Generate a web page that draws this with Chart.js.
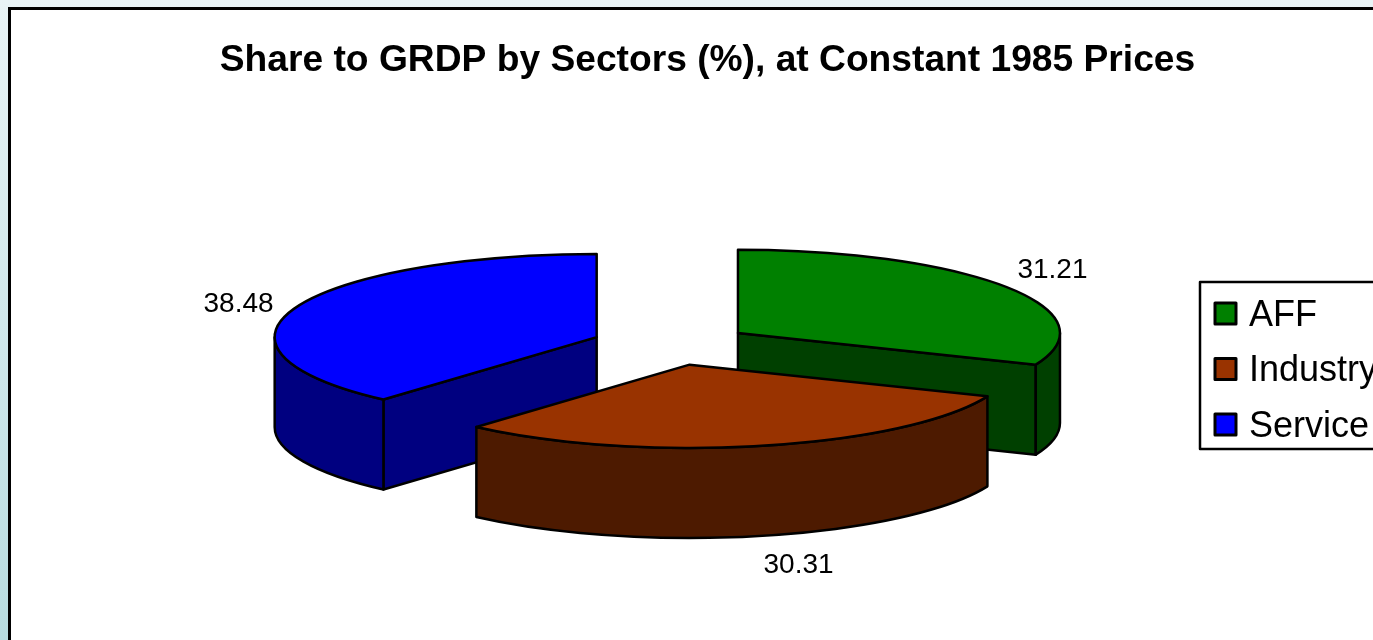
<!DOCTYPE html>
<html lang="en">
<head>
    <meta charset="UTF-8">
    <title>Share to GRDP by Sectors</title>
    <script src="https://cdn.jsdelivr.net/npm/chart.js"></script>
    <style>
        html, body {
            margin: 0;
            padding: 0;
            width: 1373px;
            height: 640px;
            overflow: hidden;
        }
        body {
            background: linear-gradient(#e9f4f6, #b8dce0);
        }
        #frame {
            position: absolute;
            left: 8px;
            top: 7px;
            width: 1393px;
            height: 660px;
            background: #fff;
            border: 3px solid #000;
        }
        canvas {
            display: block;
        }
    </style>
</head>
<body>
    <div id="frame"><canvas id="pie" width="1393" height="660"></canvas></div>

    <script>
        const sectors = ['AFF', 'Industry', 'Service'];
        const shares = [31.21, 30.31, 38.48];
        const topColors = ['#008000', '#993300', '#0000ff'];
        const sideColors = ['#004000', '#4d1a00', '#000080'];
        const chartTitle = 'Share to GRDP by Sectors (%), at Constant 1985 Prices';

        // look of the fake 3D pie, canvas px
        const squash = 0.2586;
        const depth = 90;
        const explode = 80;
        const pieX = 660.5;
        const pieY = 334.5;
        const labelNudge = [[47, -16], [36, 30], [-57, -3]];

        function drawSlice(ctx, arc, i, apexX, apexY) {
            const r = arc.outerRadius;
            const s = arc.startAngle;
            const e = arc.endAngle;
            const px = t => apexX + r * Math.cos(t);
            const py = t => apexY + r * squash * Math.sin(t);

            ctx.lineWidth = 2.5;
            ctx.lineJoin = 'round';
            ctx.strokeStyle = '#000';
            ctx.fillStyle = sideColors[i];

            // cut faces turned to the viewer
            [[s, Math.cos(s) < -0.001], [e, Math.cos(e) > 0.001]].forEach(([t, visible]) => {
                if (!visible) return;
                ctx.beginPath();
                ctx.moveTo(apexX, apexY);
                ctx.lineTo(px(t), py(t));
                ctx.lineTo(px(t), py(t) + depth);
                ctx.lineTo(apexX, apexY + depth);
                ctx.closePath();
                ctx.fill();
                ctx.stroke();
            });

            // rim, only the front half of the ellipse
            const from = Math.max(s, 0);
            const to = Math.min(e, Math.PI);
            if (to > from) {
                ctx.beginPath();
                ctx.ellipse(apexX, apexY, r, r * squash, 0, from, to);
                ctx.lineTo(px(to), py(to) + depth);
                ctx.ellipse(apexX, apexY + depth, r, r * squash, 0, to, from, true);
                ctx.closePath();
                ctx.fill();
                ctx.stroke();
            }

            // top face: the arc element itself, squashed
            ctx.save();
            ctx.translate(apexX, apexY);
            ctx.scale(1, squash);
            ctx.translate(-arc.x, -arc.y);
            arc.draw(ctx);
            ctx.restore();

            ctx.beginPath();
            ctx.moveTo(apexX, apexY);
            ctx.ellipse(apexX, apexY, r, r * squash, 0, s, e);
            ctx.closePath();
            ctx.stroke();
        }

        const pie3d = {
            id: 'pie3d',
            beforeDatasetsDraw(chart) {
                const ctx = chart.ctx;
                const arcs = chart.getDatasetMeta(0).data;
                const items = arcs.map((arc, i) => {
                    const mid = (arc.startAngle + arc.endAngle) / 2;
                    return {
                        arc, i, mid,
                        apexX: pieX + explode * Math.cos(mid),
                        apexY: pieY + explode * squash * Math.sin(mid)
                    };
                });

                ctx.save();
                items.slice().sort((a, b) => a.apexY - b.apexY).forEach(it => {
                    drawSlice(ctx, it.arc, it.i, it.apexX, it.apexY);
                });

                // value labels
                ctx.fillStyle = '#000';
                ctx.font = '28px "Liberation Sans", Arial, sans-serif';
                ctx.textAlign = 'center';
                ctx.textBaseline = 'middle';
                items.forEach(it => {
                    const r = it.arc.outerRadius;
                    const sin = Math.sin(it.mid);
                    const x = it.apexX + r * Math.cos(it.mid) + labelNudge[it.i][0];
                    const y = it.apexY + r * squash * sin + (sin > 0 ? depth : 0) + labelNudge[it.i][1];
                    ctx.fillText(shares[it.i].toFixed(2), x, y);
                });

                // legend
                ctx.strokeStyle = '#000';
                ctx.lineWidth = 2.5;
                ctx.strokeRect(1189, 272, 300, 167);
                ctx.font = '36px "Liberation Sans", Arial, sans-serif';
                ctx.textAlign = 'left';
                sectors.forEach((name, i) => {
                    const y = 304 + i * 55.5;
                    ctx.fillStyle = topColors[i];
                    ctx.fillRect(1204, y - 11, 21, 21);
                    ctx.lineWidth = 3;
                    ctx.strokeRect(1204, y - 11, 21, 21);
                    ctx.fillStyle = '#000';
                    ctx.fillText(name, 1238, y + 2);
                });
                ctx.restore();
                return false;
            }
        };

        new Chart(document.getElementById('pie'), {
            type: 'pie',
            data: {
                labels: sectors,
                datasets: [{
                    data: shares,
                    backgroundColor: topColors,
                    borderWidth: 0
                }]
            },
            options: {
                responsive: false,
                animation: false,
                radius: 322,
                plugins: {
                    legend: { display: false },
                    tooltip: { enabled: false },
                    title: {
                        display: true,
                        text: chartTitle,
                        color: '#000',
                        font: { family: '"Liberation Sans", Arial, sans-serif', size: 37.2, weight: 'bold' },
                        padding: { top: 28, bottom: 0 }
                    }
                }
            },
            plugins: [pie3d]
        });
    </script>
</body>
</html>
